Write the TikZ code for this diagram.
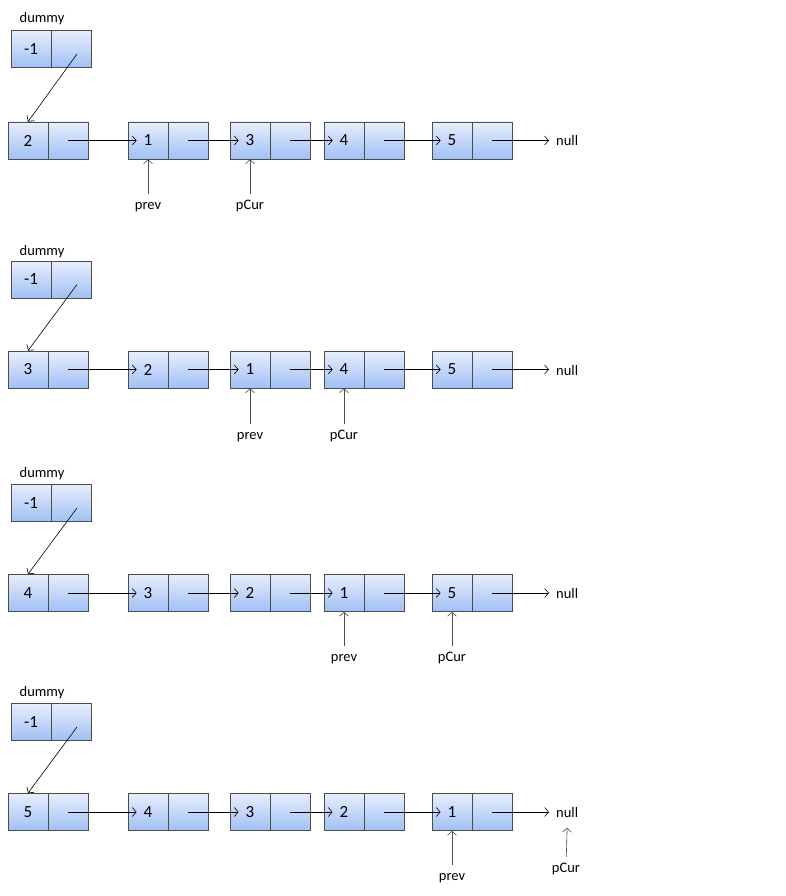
\documentclass[tikz,border=0pt]{standalone}
\usepackage{fontspec}
\setmainfont{Carlito}
\usetikzlibrary{arrows.meta,shadows}
\definecolor{cellTop}{RGB}{232,238,252}
\definecolor{cellBot}{RGB}{160,192,245}
\tikzset{
    cell/.style={draw=black!70, line width=0.7pt, top color=cellTop, bottom color=cellBot,
        minimum width=40pt, minimum height=37pt, inner sep=0pt,
        drop shadow={opacity=0.2, shadow xshift=0.6pt, shadow yshift=-0.8pt},
        font=\fontsize{17}{20}\selectfont},
    link/.style={-{Straight Barb[length=4pt,width=9pt]}, line width=0.6pt},
    ptr/.style={link, draw=black!70},
    tag/.style={font=\fontsize{14.5}{17}\selectfont, text height=14pt, text depth=3pt, inner sep=1.5pt},
}
\begin{document}
\begin{tikzpicture}[x=1pt, y=-1pt]
        \useasboundingbox (0,0) rectangle (786,896);

        % step 1
        \node[tag] (Alabel) at (42,17) {dummy};
        \node[cell] (A0) at (31,49) {-1};
        \node[cell] (A0n) at (71,49) {};

        \node[cell] (A1) at (28,140.5) {2};
        \node[cell] (A1n) at (68,140.5) {};
        \node[cell] (A2) at (148,140.5) {1};
        \node[cell] (A2n) at (188,140.5) {};
        \node[cell] (A3) at (250,140.5) {3};
        \node[cell] (A3n) at (290,140.5) {};
        \node[cell] (A4) at (344,140.5) {4};
        \node[cell] (A4n) at (384,140.5) {};
        \node[cell] (A5) at (452,140.5) {5};
        \node[cell] (A5n) at (492,140.5) {};
        \node[tag, anchor=west, inner sep=7pt] (Anull) at (549,140.5) {null};

        \node[tag] (Aprev) at (148,204) {prev};
        \node[tag] (Acur) at (250,204) {pCur};

        \draw[link] ([shift={(6,5)}]A0n.center) -- (A1.north);
        \draw[link] (A1n.center) -- ([xshift=9]A2.west);
        \draw[link] (A2n.center) -- ([xshift=9]A3.west);
        \draw[link] (A3n.center) -- ([xshift=9]A4.west);
        \draw[link] (A4n.center) -- ([xshift=9]A5.west);
        \draw[link] (A5n.center) -- (Anull);
        \draw[ptr] (Aprev) -- (A2.south);
        \draw[ptr] (Acur) -- (A3.south);

        % step 2
        \node[tag] (Blabel) at (42,250) {dummy};
        \node[cell] (B0) at (31,279.5) {-1};
        \node[cell] (B0n) at (71,279.5) {};

        \node[cell] (B1) at (28,369.5) {3};
        \node[cell] (B1n) at (68,369.5) {};
        \node[cell] (B2) at (148,369.5) {2};
        \node[cell] (B2n) at (188,369.5) {};
        \node[cell] (B3) at (250,369.5) {1};
        \node[cell] (B3n) at (290,369.5) {};
        \node[cell] (B4) at (344,369.5) {4};
        \node[cell] (B4n) at (384,369.5) {};
        \node[cell] (B5) at (452,369.5) {5};
        \node[cell] (B5n) at (492,369.5) {};
        \node[tag, anchor=west, inner sep=7pt] (Bnull) at (549,369.5) {null};

        \node[tag] (Bprev) at (250,434) {prev};
        \node[tag] (Bcur) at (344,434) {pCur};

        \draw[link] ([shift={(6,5)}]B0n.center) -- (B1.north);
        \draw[link] (B1n.center) -- ([xshift=9]B2.west);
        \draw[link] (B2n.center) -- ([xshift=9]B3.west);
        \draw[link] (B3n.center) -- ([xshift=9]B4.west);
        \draw[link] (B4n.center) -- ([xshift=9]B5.west);
        \draw[link] (B5n.center) -- (Bnull);
        \draw[ptr] (Bprev) -- (B3.south);
        \draw[ptr] (Bcur) -- (B4.south);

        % step 3
        \node[tag] (Clabel) at (42,472) {dummy};
        \node[cell] (C0) at (31,503) {-1};
        \node[cell] (C0n) at (71,503) {};

        \node[cell] (C1) at (28,593) {4};
        \node[cell] (C1n) at (68,593) {};
        \node[cell] (C2) at (148,593) {3};
        \node[cell] (C2n) at (188,593) {};
        \node[cell] (C3) at (250,593) {2};
        \node[cell] (C3n) at (290,593) {};
        \node[cell] (C4) at (344,593) {1};
        \node[cell] (C4n) at (384,593) {};
        \node[cell] (C5) at (452,593) {5};
        \node[cell] (C5n) at (492,593) {};
        \node[tag, anchor=west, inner sep=7pt] (Cnull) at (549,593) {null};

        \node[tag] (Cprev) at (344,656) {prev};
        \node[tag] (Ccur) at (452,656) {pCur};

        \draw[link] ([shift={(6,5)}]C0n.center) -- (C1.north);
        \draw[link] (C1n.center) -- ([xshift=9]C2.west);
        \draw[link] (C2n.center) -- ([xshift=9]C3.west);
        \draw[link] (C3n.center) -- ([xshift=9]C4.west);
        \draw[link] (C4n.center) -- ([xshift=9]C5.west);
        \draw[link] (C5n.center) -- (Cnull);
        \draw[ptr] (Cprev) -- (C4.south);
        \draw[ptr] (Ccur) -- (C5.south);

        % step 4
        \node[tag] (Dlabel) at (42,691) {dummy};
        \node[cell] (D0) at (31,722) {-1};
        \node[cell] (D0n) at (71,722) {};

        \node[cell] (D1) at (28,812) {5};
        \node[cell] (D1n) at (68,812) {};
        \node[cell] (D2) at (148,812) {4};
        \node[cell] (D2n) at (188,812) {};
        \node[cell] (D3) at (250,812) {3};
        \node[cell] (D3n) at (290,812) {};
        \node[cell] (D4) at (344,812) {2};
        \node[cell] (D4n) at (384,812) {};
        \node[cell] (D5) at (452,812) {1};
        \node[cell] (D5n) at (492,812) {};
        \node[tag, anchor=west, inner sep=7pt] (Dnull) at (549,812) {null};

        \node[tag] (Dprev) at (452,875) {prev};
        \node[tag] (Dcur) at (566,867) {pCur};

        \draw[link] ([shift={(6,5)}]D0n.center) -- (D1.north);
        \draw[link] (D1n.center) -- ([xshift=9]D2.west);
        \draw[link] (D2n.center) -- ([xshift=9]D3.west);
        \draw[link] (D3n.center) -- ([xshift=9]D4.west);
        \draw[link] (D4n.center) -- ([xshift=9]D5.west);
        \draw[link] (D5n.center) -- (Dnull);
        \draw[ptr] (Dprev) -- (D5.south);
        \draw[ptr] (Dcur) -- (Dnull.south);
\end{tikzpicture}
\end{document}
